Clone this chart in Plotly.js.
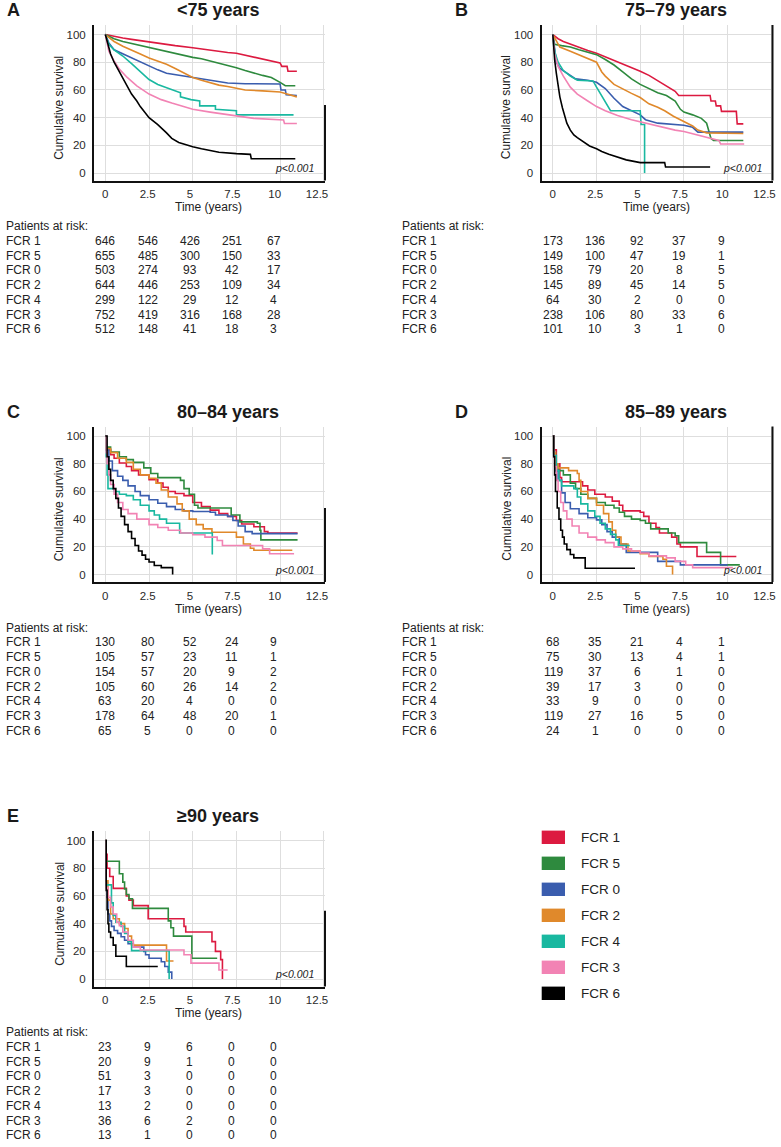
<!DOCTYPE html>
<html><head><meta charset="utf-8">
<script src="https://cdn.plot.ly/plotly-3.0.1.min.js"></script>
<style>html,body{margin:0;padding:0;background:#fff}#chart{width:781px;height:1147px}</style>
</head><body><div id="chart"></div>
<script>
// ---------- labels ----------
const seriesNames = ['FCR 1','FCR 5','FCR 0','FCR 2','FCR 4','FCR 3','FCR 6'];
const seriesColors = ['#DC1A40','#2E8A3E','#3A5DAE','#E0892B','#19B8A0','#F283B4','#000000'];
const panelTitles = ['&lt;75 years','75–79 years','80–84 years','85–89 years','≥90 years'];
const panelLetters = ['A','B','C','D','E'];
const xTickVals = [0,2.5,5,7.5,10,12.5];
const xTickText = ['0','2.5','5','7.5','10','12.5'];
const yTickVals = [0,20,40,60,80,100];
const pValueText = 'p&lt;0.001';

// ---------- Panel A (<75) ----------
const tA_FCR1=[0,0.5,1,1.5,2,2.5,3,4,5,6,7,7.5,8,8.5,9,9.5,10,10.1,10.4,10.45,10.96];
const sA_FCR1=[100,98.5,97.5,96.5,95.5,94.5,93.5,92,90.5,88.5,87,86.5,85,83.5,82.5,81,79.5,77,77,73.5,73.5];
const tA_FCR5=[0,0.5,1,1.5,2,2.5,3,3.5,4,4.5,5,5.5,6,6.5,7,7.5,8,8.5,9,9.5,9.8,10,10.3,10.87];
const sA_FCR5=[100,97,95,93.5,92,90.5,89.5,88,86.5,85,83.5,82.5,81,79.5,78,76,74,72,70.5,69,67,65.5,63,63];
const tA_FCR0=[0,0.2,0.5,1,1.5,2,2.5,3,3.5,4,5,6,7,8,10,10.05,10.3,10.35,10.96];
const sA_FCR0=[100,94,89,86,83.5,80,77,74.5,72,71,68.5,67,65,64.5,64.3,60,60,56.5,56];
const tA_FCR2=[0,0.5,1,1.5,2,2.5,3,3.5,4,4.5,5,5.5,6,6.5,7,7.5,8,9,10,10.3,10.8,10.96];
const sA_FCR2=[100,95,91.5,89,86,83,81,78.5,75.5,72.5,69,67,65,63.5,62.5,61,60,59.3,58.5,57.5,55.5,55];
const tA_FCR4=[0,0.2,0.5,1,1.5,2,2.5,3,3.5,4,4.3,4.3,4.9,5.4,5.4,6.3,6.3,7.5,7.5,10.77];
const sA_FCR4=[100,93,89,84.5,79,73,67.5,64,61.5,59.5,58,55,53,52,48.5,48.5,46,45,42,42];
const tA_FCR3=[0,0.2,0.5,0.8,1.25,1.8,2.5,3.2,3.8,4.5,5,6,7,7.5,8.5,10.2,10.25,10.96];
const sA_FCR3=[100,88,81,75,69,63,57,53,50.5,48,46,44,42,41,39.5,38.3,35.8,35.8];
const tA_FCR6=[0,0.15,0.3,0.5,0.75,1,1.25,1.5,1.8,2,2.5,3,3.5,3.8,4.2,4.7,5,5.5,6,6.5,7.5,8.3,8.35,10.87];
const sA_FCR6=[100,92,86,80,74,68,63,57,52,48,40,35,29,25,22,20,19,17.5,16,15,14,13.5,10.3,10.3];

// ---------- Panel B (75-79) ----------
const tB_FCR1=[0,0.3,0.6,1,1.5,2,2.5,3,3.5,4,4.5,5,5.5,6,6.5,7,7.2,9,9.05,9.3,9.35,9.6,9.65,10.5,10.55,10.9];
const sB_FCR1=[100,97,95,93,91,88.5,86.5,84,81.5,78.5,76,73.5,70.5,66.5,62.5,59,56,56,52,52,48.5,48.5,44.5,44.5,35.5,35.5];
const tB_FCR5=[0,0.1,0.5,1,1.5,2,2.5,3,3.5,4,4.5,5,5.5,6,6.5,7,7.3,7.5,8,8.5,8.8,9.05,9.2,10.9];
const sB_FCR5=[100,93,92,91,89,87.5,85.5,82,78,73,68,64,61,58,56,52,46,44,42,39.5,36,25,23.5,23.5];
const tB_FCR0=[0,0.1,0.2,0.4,0.8,1.3,2,2.5,3,3.5,4,4.5,5,5.3,6,7.5,8,8.3,10.9];
const sB_FCR0=[100,90,80,75.5,72,68,67,65.5,61,54,48,45,42,38.5,36,34.5,33,29.5,29.5];
const tB_FCR2=[0,0.2,0.4,1,1.5,2,2.5,2.8,3,3.5,4,4.5,5,5.5,6,6.4,6.9,7.5,8,8.3,8.8,10.9];
const sB_FCR2=[100,95,91,88,85.5,82.5,80,73,70,64,60.5,57.5,54.5,50,47.5,45,41,37,34,31,29,28.5];
const tB_FCR4=[0,0.05,0.15,0.3,0.6,1,1.4,2.3,2.5,2.8,3.1,3.3,5,5.05,5.25,5.25];
const sB_FCR4=[100,92,86,80,74,70,67,66.5,62,56,50,45,45,35,35,0];
const tB_FCR3=[0,0.1,0.3,0.6,1,1.4,2,2.5,3,3.7,4.5,5,6,7,7.5,8.5,9,9.5,9.6,10.95];
const sB_FCR3=[100,86,77,70,62,57,52,48,45,41.5,38.5,37,33.5,31,30,27,25,23.5,21,21];
const tB_FCR6=[0,0.05,0.1,0.2,0.3,0.4,0.55,0.7,0.8,1,1.2,1.4,1.8,2.1,2.5,2.8,3.2,3.7,4.2,5,6.4,6.45,9];
const sB_FCR6=[100,90,82,72,62,55,47,40,36,31,27.5,25.5,22,19.5,17.5,15.5,13.5,11.5,9.5,7.5,7.5,4.3,4.3];

// ---------- Panel C (80-84) ----------
const tC_FCR1=[0,0.05,0.3,0.5,0.8,1.2,1.5,1.9,2.5,3,3.3,3.6,4,4.5,5,5.5,6,6.5,7,7.5,7.8,8.5,9.1,9.3,11];
const sC_FCR1=[100,90,86.5,84,80.5,78,75,72,68.5,66,63,60,58.5,57,52,49,46.5,44,42,39,36.5,34.5,31,30,30];
const tC_FCR5=[0,0.05,0.3,0.8,1.2,1.6,2.2,2.6,3,4.3,4.5,4.8,5.1,5.3,7,7.2,7.7,8.7,8.85,8.9,11];
const sC_FCR5=[100,92,88.5,85,83,81,77,73,70,68,62,58,50,48,48,43,38,37,32,25,25];
const tC_FCR0=[0,0.05,0.2,0.4,0.7,1,1.3,1.7,2,2.5,3,3.5,4,4.5,5,6,6.3,7,7.3,7.6,8,8.4,11];
const sC_FCR0=[100,90,82,75,71,68,64,60,57,54,51.5,49,47,46,45.5,45,43,42,39,35,31,29.5,29.5];
const tC_FCR2=[0,0.05,0.3,0.7,1.2,1.6,2,2.5,2.9,3.2,3.6,4.1,4.4,4.8,5.2,5.6,6.1,7.5,7.9,8.3,8.5,10.7];
const sC_FCR2=[100,91,88,84,81,76,72,69.5,66,61,56,51,46,40,36,33,30.5,27,22,19,17.5,17.5];
const tC_FCR4=[0,0.05,0.1,0.15,0.5,0.8,1.2,1.6,2,2.5,2.8,3.1,3.5,4.25,6.1,6.12];
const sC_FCR4=[100,85,72,62,60,58,57,54,50,46,43,40,37,30,30,14.5];
const tC_FCR3=[0,0.05,0.1,0.2,0.3,0.5,0.7,1,1.3,1.8,2.5,3,3.6,4.3,5,5.7,6.4,6.7,9,9.4,10.8];
const sC_FCR3=[100,88,80,72,65,58,52,47,44,40,36,34,32,30,28.7,27,24.6,21,18.5,15,15];
const tC_FCR6=[0,0.1,0.2,0.3,0.45,0.6,0.75,0.9,1.1,1.3,1.5,1.7,1.9,2.1,2.3,2.5,2.8,3.2,3.85];
const sC_FCR6=[100,85,76,68,62,55,48,42,36,31,26,21,17,14,11,9,6.5,5,0];

// ---------- Panel D (85-89) ----------
const tD_FCR1=[0,0.05,0.2,0.4,0.5,1.7,2,2.4,3,3.4,3.8,4,5,5.2,5.5,5.9,6.1,6.8,7.1,7.3,8.25,10.5];
const sD_FCR1=[100,90,80,70,67,64,61,58,56,53,50,46,45,42,37,34,30,27,22,20,13,13];
const tD_FCR5=[0,0.05,0.15,0.3,0.6,1,1.3,1.6,2,2.5,3,3.5,3.8,4.1,4.5,5,5.3,5.6,6.6,7,7.2,8.8,9.6,10.7];
const sD_FCR5=[100,88,80,75,72,66,62,58,55,52,50,48,45,42,40,39,37,33,30,28,23,16,7,7];
const tD_FCR0=[0,0.05,0.15,0.3,0.5,0.7,1,1.5,2,2.5,2.8,3.1,3.4,3.8,4.2,6,7.3,10];
const sD_FCR0=[100,85,75,68,59,52,47.5,44,41,39.5,36,31,27,22,16,9.5,7,7];
const tD_FCR2=[0,0.05,0.15,0.3,0.9,1.4,1.5,1.6,2,2.5,2.9,3.2,3.4,3.6,3.9,4.3,5,5.5,6.3,6.5,6.85];
const sD_FCR2=[100,88,80,77,75,73,68,60,55,50,44,38,32,27,22,17,15,13,11,6,0];
const tD_FCR4=[0,0.05,0.2,0.35,0.5,1.2,1.4,1.6,2,2.4,2.7,3,3.3,3.6,3.75,4.4];
const sD_FCR4=[100,86,75,68,64,62,56,51,46,42,37,33,29,25,21,21];
const tD_FCR3=[0,0.05,0.1,0.2,0.3,0.45,0.6,0.8,1.1,1.5,2,2.5,3,3.5,4,4.5,5,5.5,6.5,7,7.6,8,10.3];
const sD_FCR3=[100,85,78,68,60,52,46,40,35,30,27,25,23,20,18.5,17,15.5,13.5,12,9.5,7,5,5];
const tD_FCR6=[0,0.05,0.1,0.15,0.25,0.35,0.45,0.55,0.65,0.8,1,1.2,1.85,4.7];
const sD_FCR6=[100,85,72,60,48,40,32,27,22,18,14.5,12,4.5,4.5];

// ---------- Panel E (>=90) ----------
const tE_FCR1=[0,0.05,0.1,0.25,0.45,1.2,1.35,1.6,2.45,4.5,4.6,6.1,6.3,6.6,6.7];
const sE_FCR1=[100,90,80,74,65.5,60,57,53,43.5,38,34,27,20,14,0];
const tE_FCR5=[0,0.05,0.8,1,1.1,1.2,1.35,1.55,3.6,3.75,3.9,4.95,6.4];
const sE_FCR5=[100,85,76,70,65,61,58,51,42,37,31,15,15];
const tE_FCR0=[0,0.05,0.1,0.15,0.25,0.35,0.5,0.7,0.9,1.1,1.3,1.6,2.2,2.3,2.5,3.2,3.4,3.6,3.8];
const sE_FCR0=[100,71,59,47,42,38,35,33,30.5,28,25.5,23,20,17.5,15,12.5,9,5,0];
const tE_FCR2=[0,0.05,0.15,0.3,0.45,0.8,1.1,1.3,1.5,3.5,3.9];
const sE_FCR2=[100,71,57,47,43.5,40,36.5,31,24.5,13,13];
const tE_FCR4=[0,0.05,0.35,0.45,0.6,0.9,1.1,1.3,1.5,3.65,3.65];
const sE_FCR4=[100,68,55,46,41,38,33,27,20.5,20.5,0];
const tE_FCR3=[0,0.05,0.15,0.3,0.45,0.65,0.8,1,1.3,1.6,2,4.5,4.9,6.5,7];
const sE_FCR3=[100,66,59,52,47,41,38.5,34,28,23,21,17.5,11.5,6.5,6.5];
const tE_FCR6=[0,0.05,0.1,0.15,0.2,0.3,0.45,0.6,1.2,3];
const sE_FCR6=[100,64,50,40,34,30,24.5,16.5,9,9];

// ---------- patients at risk (rows follow seriesNames; columns at 0,2.5,5,7.5,10 y) ----------
const riskA=[[646,546,426,251,67],[655,485,300,150,33],[503,274,93,42,17],[644,446,253,109,34],[299,122,29,12,4],[752,419,316,168,28],[512,148,41,18,3]];
const riskB=[[173,136,92,37,9],[149,100,47,19,1],[158,79,20,8,5],[145,89,45,14,5],[64,30,2,0,0],[238,106,80,33,6],[101,10,3,1,0]];
const riskC=[[130,80,52,24,9],[105,57,23,11,1],[154,57,20,9,2],[105,60,26,14,2],[63,20,4,0,0],[178,64,48,20,1],[65,5,0,0,0]];
const riskD=[[68,35,21,4,1],[75,30,13,4,1],[119,37,6,1,0],[39,17,3,0,0],[33,9,0,0,0],[119,27,16,5,0],[24,1,0,0,0]];
const riskE=[[23,9,6,0,0],[20,9,1,0,0],[51,3,0,0,0],[17,3,0,0,0],[13,2,0,0,0],[36,6,2,0,0],[13,1,0,0,0]];

// ---------- assembly ----------
const W=781,H=1147;
const PX=x=>x/W, PY=y=>1-y/H;
const FONT='"Liberation Sans", Arial, Helvetica, sans-serif';

const panels=[
 {t:[tA_FCR1,tA_FCR5,tA_FCR0,tA_FCR2,tA_FCR4,tA_FCR3,tA_FCR6],s:[sA_FCR1,sA_FCR5,sA_FCR0,sA_FCR2,sA_FCR4,sA_FCR3,sA_FCR6],risk:riskA,shape:'linear',
  L:94,T:25,titleX:175,letterX:5,yTitleX:59.3,tblX:4,colX:105.5,rightLineTop:105},
 {t:[tB_FCR1,tB_FCR5,tB_FCR0,tB_FCR2,tB_FCR4,tB_FCR3,tB_FCR6],s:[sB_FCR1,sB_FCR5,sB_FCR0,sB_FCR2,sB_FCR4,sB_FCR3,sB_FCR6],risk:riskB,shape:'linear',
  L:541.5,T:25,titleX:622.7,letterX:453,yTitleX:506.7,tblX:400,colX:553,rightLineTop:25},
 {t:[tC_FCR1,tC_FCR5,tC_FCR0,tC_FCR2,tC_FCR4,tC_FCR3,tC_FCR6],s:[sC_FCR1,sC_FCR5,sC_FCR0,sC_FCR2,sC_FCR4,sC_FCR3,sC_FCR6],risk:riskC,shape:'hv',
  L:94,T:426.5,titleX:175,letterX:5,yTitleX:59.3,tblX:4,colX:105.5,rightLineTop:508},
 {t:[tD_FCR1,tD_FCR5,tD_FCR0,tD_FCR2,tD_FCR4,tD_FCR3,tD_FCR6],s:[sD_FCR1,sD_FCR5,sD_FCR0,sD_FCR2,sD_FCR4,sD_FCR3,sD_FCR6],risk:riskD,shape:'hv',
  L:541.5,T:426.5,titleX:622.7,letterX:453,yTitleX:506.7,tblX:400,colX:553,rightLineTop:426.5},
 {t:[tE_FCR1,tE_FCR5,tE_FCR0,tE_FCR2,tE_FCR4,tE_FCR3,tE_FCR6],s:[sE_FCR1,sE_FCR5,sE_FCR0,sE_FCR2,sE_FCR4,sE_FCR3,sE_FCR6],risk:riskE,shape:'hv',
  L:94,T:831,titleX:175,letterX:5,yTitleX:59.3,tblX:4,colX:105.5,rightLineTop:910.7}
];

const PW=231, PH=155.5;
const traces=[], annotations=[], shapes=[];
const layout={width:W,height:H,margin:{l:0,r:0,t:0,b:0},paper_bgcolor:'#fff',plot_bgcolor:'#fff',
  showlegend:false,font:{family:FONT,color:'#222'}};
const tickFont={size:11.5,color:'#2a2a2a',family:FONT};

panels.forEach((p,i)=>{
  const k=i===0?'':String(i+1);
  const lk=String(i+6);
  const R=p.L+PW, B=p.T+PH;
  layout['xaxis'+k]={domain:[PX(p.L),PX(R)],range:[-0.65,12.57],anchor:'y'+k,
    tickvals:xTickVals,showticklabels:false,showgrid:true,gridcolor:'#dedede',gridwidth:1,zeroline:false,
    showline:true,linecolor:'#111',linewidth:2,ticks:'',fixedrange:true};
  // tick-label axis (labels sit slightly left of the grid in the original)
  layout['xaxis'+lk]={domain:[PX(p.L),PX(R)],range:[-0.667,12.97],anchor:'y'+k,overlaying:'x'+k,side:'bottom',
    tickvals:xTickVals,ticktext:xTickText,showgrid:false,zeroline:false,showline:false,
    ticks:'outside',ticklen:3,tickcolor:'rgba(0,0,0,0)',tickfont:tickFont,fixedrange:true};
  layout['yaxis'+k]={domain:[PY(B),PY(p.T)],range:[-5.4,106.9],anchor:'x'+k,
    tickvals:yTickVals,showgrid:true,gridcolor:'#dedede',gridwidth:1,zeroline:false,
    showline:true,linecolor:'#111',linewidth:2,ticks:'outside',ticklen:4,tickcolor:'rgba(0,0,0,0)',
    tickfont:tickFont,fixedrange:true};
  traces.push({type:'scatter',mode:'lines',x:[0],y:[0],xaxis:'x'+lk,yaxis:'y'+k,
    line:{color:'rgba(0,0,0,0)',width:0},hoverinfo:'skip',showlegend:false});
  seriesNames.forEach((nm,j)=>{
    traces.push({type:'scatter',mode:'lines',name:nm,x:p.t[j],y:p.s[j],xaxis:'x'+k,yaxis:'y'+k,
      line:{color:seriesColors[j],width:1.6,shape:p.shape},hoverinfo:'skip'});
  });
  // titles
  annotations.push({xref:'paper',yref:'paper',x:PX(p.titleX),y:PY(p.T-15),xanchor:'left',yanchor:'middle',showarrow:false,
    text:'<b>'+panelTitles[i]+'</b>',font:{size:18,color:'#1a1a1a',family:FONT}});
  annotations.push({xref:'paper',yref:'paper',x:PX(p.letterX),y:PY(p.T-15),xanchor:'left',yanchor:'middle',showarrow:false,
    text:'<b>'+panelLetters[i]+'</b>',font:{size:18,color:'#1a1a1a',family:FONT}});
  // axis titles
  annotations.push({xref:'paper',yref:'paper',x:PX(p.yTitleX),y:PY(p.T+82.5),xanchor:'center',yanchor:'middle',showarrow:false,
    textangle:-90,text:'Cumulative survival',font:{size:12,color:'#222',family:FONT}});
  annotations.push({xref:'paper',yref:'paper',x:PX(p.L+114.7),y:PY(p.T+182),xanchor:'center',yanchor:'middle',showarrow:false,
    text:'Time (years)',font:{size:12,color:'#222',family:FONT}});
  // p-value
  annotations.push({xref:'paper',yref:'paper',x:PX(p.L+222),y:PY(p.T+143.3),xanchor:'right',yanchor:'middle',showarrow:false,
    text:'<i>'+pValueText+'</i>',font:{size:10.5,color:'#222',family:FONT}});
  // partial right frame line
  shapes.push({type:'line',xref:'paper',yref:'paper',x0:PX(R),x1:PX(R),y0:PY(p.rightLineTop),y1:PY(B),line:{color:'#111',width:2}});
  // risk table
  const ty=p.T+201;
  annotations.push({xref:'paper',yref:'paper',x:PX(p.tblX),y:PY(ty),xanchor:'left',yanchor:'middle',showarrow:false,
    text:'Patients at risk:',font:{size:12,color:'#222',family:FONT}});
  seriesNames.forEach((nm,j)=>{
    const ry=ty+14.75*(j+1);
    annotations.push({xref:'paper',yref:'paper',x:PX(p.tblX),y:PY(ry),xanchor:'left',yanchor:'middle',showarrow:false,
      text:nm,font:{size:12,color:'#222',family:FONT}});
    p.risk[j].forEach((v,c)=>{
      annotations.push({xref:'paper',yref:'paper',x:PX(p.colX+42*c),y:PY(ry),xanchor:'center',yanchor:'middle',showarrow:false,
        text:String(v),font:{size:12,color:'#222',family:FONT}});
    });
  });
});

// legend
seriesNames.forEach((nm,j)=>{
  const cy=837.3+26*j;
  shapes.push({type:'rect',xref:'paper',yref:'paper',x0:PX(541.7),x1:PX(565),y0:PY(cy+6.7),y1:PY(cy-6.7),
    fillcolor:seriesColors[j],line:{width:0}});
  annotations.push({xref:'paper',yref:'paper',x:PX(579),y:PY(cy),xanchor:'left',yanchor:'middle',showarrow:false,
    text:nm,font:{size:13.5,color:'#222',family:FONT}});
});

layout.annotations=annotations; layout.shapes=shapes;
Plotly.newPlot('chart',traces,layout,{staticPlot:true,displayModeBar:false});
</script></body></html>
